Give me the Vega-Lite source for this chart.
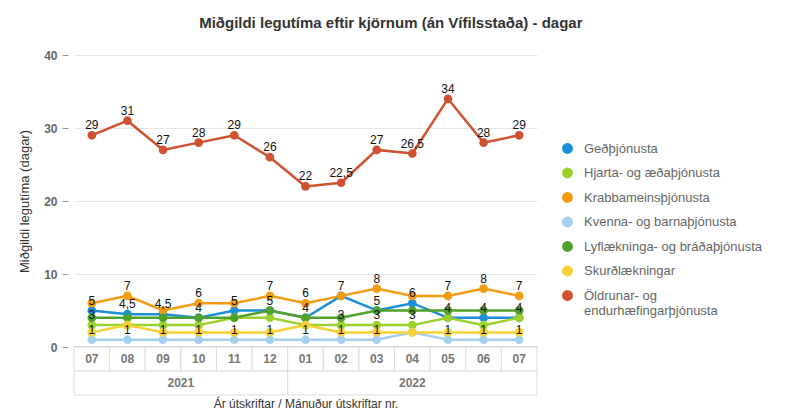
{
  "$schema": "https://vega.github.io/schema/vega-lite/v6.json",
  "padding": {"left": 18, "top": 16, "right": 5, "bottom": 2},
  "background": "white",
  "title": {"text": "Miðgildi legutíma eftir kjörnum (án Vífilsstaða) - dagar", "anchor": "middle", "frame": "bounds", "font": "Liberation Sans", "fontSize": 15, "fontWeight": "bold", "color": "#333333", "offset": 18},
  "bounds": "flush",
  "spacing": 0,
  "datasets": {
    "months": [
      {"ym": "2021-07", "year": "2021", "month": "07"},
      {"ym": "2021-08", "year": "2021", "month": "08"},
      {"ym": "2021-09", "year": "2021", "month": "09"},
      {"ym": "2021-10", "year": "2021", "month": "10"},
      {"ym": "2021-11", "year": "2021", "month": "11"},
      {"ym": "2021-12", "year": "2021", "month": "12"},
      {"ym": "2022-01", "year": "2022", "month": "01"},
      {"ym": "2022-02", "year": "2022", "month": "02"},
      {"ym": "2022-03", "year": "2022", "month": "03"},
      {"ym": "2022-04", "year": "2022", "month": "04"},
      {"ym": "2022-05", "year": "2022", "month": "05"},
      {"ym": "2022-06", "year": "2022", "month": "06"},
      {"ym": "2022-07", "year": "2022", "month": "07"}
    ],
    "values": [
      {"ym": "2021-07", "series": "Geðþjónusta", "value": 5, "label": "5"},
      {"ym": "2021-08", "series": "Geðþjónusta", "value": 4.5, "label": "4,5"},
      {"ym": "2021-09", "series": "Geðþjónusta", "value": 4.5, "label": "4,5"},
      {"ym": "2021-10", "series": "Geðþjónusta", "value": 4, "label": "4"},
      {"ym": "2021-11", "series": "Geðþjónusta", "value": 5, "label": "5"},
      {"ym": "2021-12", "series": "Geðþjónusta", "value": 5, "label": "5"},
      {"ym": "2022-01", "series": "Geðþjónusta", "value": 4, "label": "4"},
      {"ym": "2022-02", "series": "Geðþjónusta", "value": 7, "label": null},
      {"ym": "2022-03", "series": "Geðþjónusta", "value": 5, "label": "5"},
      {"ym": "2022-04", "series": "Geðþjónusta", "value": 6, "label": "6"},
      {"ym": "2022-05", "series": "Geðþjónusta", "value": 4, "label": "4"},
      {"ym": "2022-06", "series": "Geðþjónusta", "value": 4, "label": "4"},
      {"ym": "2022-07", "series": "Geðþjónusta", "value": 4, "label": "4"},

      {"ym": "2021-07", "series": "Hjarta- og æðaþjónusta", "value": 3, "label": "3"},
      {"ym": "2021-08", "series": "Hjarta- og æðaþjónusta", "value": 3, "label": null},
      {"ym": "2021-09", "series": "Hjarta- og æðaþjónusta", "value": 3, "label": null},
      {"ym": "2021-10", "series": "Hjarta- og æðaþjónusta", "value": 3, "label": null},
      {"ym": "2021-11", "series": "Hjarta- og æðaþjónusta", "value": 4, "label": null},
      {"ym": "2021-12", "series": "Hjarta- og æðaþjónusta", "value": 4, "label": null},
      {"ym": "2022-01", "series": "Hjarta- og æðaþjónusta", "value": 3, "label": null},
      {"ym": "2022-02", "series": "Hjarta- og æðaþjónusta", "value": 3, "label": "3"},
      {"ym": "2022-03", "series": "Hjarta- og æðaþjónusta", "value": 3, "label": "3"},
      {"ym": "2022-04", "series": "Hjarta- og æðaþjónusta", "value": 3, "label": "3"},
      {"ym": "2022-05", "series": "Hjarta- og æðaþjónusta", "value": 4, "label": null},
      {"ym": "2022-06", "series": "Hjarta- og æðaþjónusta", "value": 3, "label": null},
      {"ym": "2022-07", "series": "Hjarta- og æðaþjónusta", "value": 4, "label": null},

      {"ym": "2021-07", "series": "Krabbameinsþjónusta", "value": 6, "label": null},
      {"ym": "2021-08", "series": "Krabbameinsþjónusta", "value": 7, "label": "7"},
      {"ym": "2021-09", "series": "Krabbameinsþjónusta", "value": 5, "label": null},
      {"ym": "2021-10", "series": "Krabbameinsþjónusta", "value": 6, "label": "6"},
      {"ym": "2021-11", "series": "Krabbameinsþjónusta", "value": 6, "label": null},
      {"ym": "2021-12", "series": "Krabbameinsþjónusta", "value": 7, "label": "7"},
      {"ym": "2022-01", "series": "Krabbameinsþjónusta", "value": 6, "label": "6"},
      {"ym": "2022-02", "series": "Krabbameinsþjónusta", "value": 7, "label": "7"},
      {"ym": "2022-03", "series": "Krabbameinsþjónusta", "value": 8, "label": "8"},
      {"ym": "2022-04", "series": "Krabbameinsþjónusta", "value": 7, "label": null},
      {"ym": "2022-05", "series": "Krabbameinsþjónusta", "value": 7, "label": "7"},
      {"ym": "2022-06", "series": "Krabbameinsþjónusta", "value": 8, "label": "8"},
      {"ym": "2022-07", "series": "Krabbameinsþjónusta", "value": 7, "label": "7"},

      {"ym": "2021-07", "series": "Kvenna- og barnaþjónusta", "value": 1, "label": "1"},
      {"ym": "2021-08", "series": "Kvenna- og barnaþjónusta", "value": 1, "label": "1"},
      {"ym": "2021-09", "series": "Kvenna- og barnaþjónusta", "value": 1, "label": "1"},
      {"ym": "2021-10", "series": "Kvenna- og barnaþjónusta", "value": 1, "label": "1"},
      {"ym": "2021-11", "series": "Kvenna- og barnaþjónusta", "value": 1, "label": "1"},
      {"ym": "2021-12", "series": "Kvenna- og barnaþjónusta", "value": 1, "label": "1"},
      {"ym": "2022-01", "series": "Kvenna- og barnaþjónusta", "value": 1, "label": "1"},
      {"ym": "2022-02", "series": "Kvenna- og barnaþjónusta", "value": 1, "label": "1"},
      {"ym": "2022-03", "series": "Kvenna- og barnaþjónusta", "value": 1, "label": "1"},
      {"ym": "2022-04", "series": "Kvenna- og barnaþjónusta", "value": 2, "label": null},
      {"ym": "2022-05", "series": "Kvenna- og barnaþjónusta", "value": 1, "label": "1"},
      {"ym": "2022-06", "series": "Kvenna- og barnaþjónusta", "value": 1, "label": "1"},
      {"ym": "2022-07", "series": "Kvenna- og barnaþjónusta", "value": 1, "label": "1"},

      {"ym": "2021-07", "series": "Lyflækninga- og bráðaþjónusta", "value": 4, "label": null},
      {"ym": "2021-08", "series": "Lyflækninga- og bráðaþjónusta", "value": 4, "label": null},
      {"ym": "2021-09", "series": "Lyflækninga- og bráðaþjónusta", "value": 4, "label": null},
      {"ym": "2021-10", "series": "Lyflækninga- og bráðaþjónusta", "value": 4, "label": null},
      {"ym": "2021-11", "series": "Lyflækninga- og bráðaþjónusta", "value": 4, "label": null},
      {"ym": "2021-12", "series": "Lyflækninga- og bráðaþjónusta", "value": 5, "label": null},
      {"ym": "2022-01", "series": "Lyflækninga- og bráðaþjónusta", "value": 4, "label": null},
      {"ym": "2022-02", "series": "Lyflækninga- og bráðaþjónusta", "value": 4, "label": null},
      {"ym": "2022-03", "series": "Lyflækninga- og bráðaþjónusta", "value": 5, "label": null},
      {"ym": "2022-04", "series": "Lyflækninga- og bráðaþjónusta", "value": 5, "label": null},
      {"ym": "2022-05", "series": "Lyflækninga- og bráðaþjónusta", "value": 5, "label": null},
      {"ym": "2022-06", "series": "Lyflækninga- og bráðaþjónusta", "value": 5, "label": null},
      {"ym": "2022-07", "series": "Lyflækninga- og bráðaþjónusta", "value": 5, "label": null},

      {"ym": "2021-07", "series": "Skurðlækningar", "value": 2, "label": null},
      {"ym": "2021-08", "series": "Skurðlækningar", "value": 3, "label": null},
      {"ym": "2021-09", "series": "Skurðlækningar", "value": 2, "label": null},
      {"ym": "2021-10", "series": "Skurðlækningar", "value": 2, "label": null},
      {"ym": "2021-11", "series": "Skurðlækningar", "value": 2, "label": null},
      {"ym": "2021-12", "series": "Skurðlækningar", "value": 2, "label": null},
      {"ym": "2022-01", "series": "Skurðlækningar", "value": 3, "label": null},
      {"ym": "2022-02", "series": "Skurðlækningar", "value": 2, "label": null},
      {"ym": "2022-03", "series": "Skurðlækningar", "value": 2, "label": null},
      {"ym": "2022-04", "series": "Skurðlækningar", "value": 2, "label": null},
      {"ym": "2022-05", "series": "Skurðlækningar", "value": 2, "label": null},
      {"ym": "2022-06", "series": "Skurðlækningar", "value": 2, "label": null},
      {"ym": "2022-07", "series": "Skurðlækningar", "value": 2, "label": null},

      {"ym": "2021-07", "series": "Öldrunar- og endurhæfingarþjónusta", "value": 29, "label": "29"},
      {"ym": "2021-08", "series": "Öldrunar- og endurhæfingarþjónusta", "value": 31, "label": "31"},
      {"ym": "2021-09", "series": "Öldrunar- og endurhæfingarþjónusta", "value": 27, "label": "27"},
      {"ym": "2021-10", "series": "Öldrunar- og endurhæfingarþjónusta", "value": 28, "label": "28"},
      {"ym": "2021-11", "series": "Öldrunar- og endurhæfingarþjónusta", "value": 29, "label": "29"},
      {"ym": "2021-12", "series": "Öldrunar- og endurhæfingarþjónusta", "value": 26, "label": "26"},
      {"ym": "2022-01", "series": "Öldrunar- og endurhæfingarþjónusta", "value": 22, "label": "22"},
      {"ym": "2022-02", "series": "Öldrunar- og endurhæfingarþjónusta", "value": 22.5, "label": "22,5"},
      {"ym": "2022-03", "series": "Öldrunar- og endurhæfingarþjónusta", "value": 27, "label": "27"},
      {"ym": "2022-04", "series": "Öldrunar- og endurhæfingarþjónusta", "value": 26.5, "label": "26,5"},
      {"ym": "2022-05", "series": "Öldrunar- og endurhæfingarþjónusta", "value": 34, "label": "34"},
      {"ym": "2022-06", "series": "Öldrunar- og endurhæfingarþjónusta", "value": 28, "label": "28"},
      {"ym": "2022-07", "series": "Öldrunar- og endurhæfingarþjónusta", "value": 29, "label": "29"}
    ]
  },
  "vconcat": [
    {
      "data": {"name": "values"},
      "width": 463,
      "height": 292,
      "encoding": {
        "x": {"field": "ym", "type": "ordinal", "scale": {"type": "band", "paddingInner": 0, "paddingOuter": 0},
          "axis": {"labels": false, "ticks": false, "title": null, "domain": true, "domainColor": "#a0a0a0", "domainWidth": 2, "grid": false}},
        "y": {"field": "value", "type": "quantitative", "scale": {"domain": [0, 40]},
          "axis": {"title": "Miðgildi legutíma (dagar)", "values": [0, 10, 20, 30, 40], "domain": false, "offset": 6, "tickSize": 6, "tickColor": "#999999",
            "labelFont": "Liberation Sans", "labelFontWeight": "bold", "labelColor": "#666666", "labelFontSize": 12, "labelPadding": 5,
            "grid": true, "gridColor": "#e6e6e6",
            "titleFont": "Liberation Sans", "titleFontSize": 13, "titleFontWeight": "normal", "titleColor": "#333333", "titlePadding": 12}},
        "color": {"field": "series", "type": "nominal",
          "scale": {"domain": ["Geðþjónusta", "Hjarta- og æðaþjónusta", "Krabbameinsþjónusta", "Kvenna- og barnaþjónusta", "Lyflækninga- og bráðaþjónusta", "Skurðlækningar", "Öldrunar- og endurhæfingarþjónusta"],
            "range": ["#1b8fd8", "#9bd12a", "#f39c12", "#a2d0ee", "#4fa12a", "#f7d035", "#d0502f"]},
          "legend": {"title": null, "orient": "none", "legendX": 487, "legendY": 87, "padding": 0, "symbolType": "circle", "symbolSize": 120, "symbolStrokeWidth": 0,
            "labelFont": "Liberation Sans", "labelFontSize": 13, "labelColor": "#666666", "labelOffset": 10, "rowPadding": 10.5, "labelLimit": 300,
            "labelExpr": "datum.label == 'Öldrunar- og endurhæfingarþjónusta' ? ['Öldrunar- og', 'endurhæfingarþjónusta'] : datum.label"}}
      },
      "layer": [
        {"mark": {"type": "line", "strokeWidth": 2.5}},
        {"mark": {"type": "circle", "size": 75, "opacity": 1}},
        {"transform": [{"filter": "datum.label != null"}],
          "mark": {"type": "text", "dy": -10, "fontSize": 12, "font": "Liberation Sans"},
          "encoding": {"text": {"field": "label"}, "color": {"value": "#111111"}}}
      ]
    },
    {
      "data": {"name": "months"},
      "width": 463,
      "height": 24,
      "encoding": {
        "x": {"field": "ym", "type": "ordinal", "scale": {"type": "band", "paddingInner": 0, "paddingOuter": 0}, "axis": null}
      },
      "layer": [
        {"mark": {"type": "rect", "fill": "white", "stroke": "#dddddd", "strokeWidth": 1}},
        {"mark": {"type": "text", "font": "Liberation Sans", "fontWeight": "bold", "fontSize": 12, "color": "#777777"},
          "encoding": {"text": {"field": "month"}}}
      ]
    },
    {
      "data": {"name": "months"},
      "width": 463,
      "height": 24,
      "transform": [
        {"aggregate": [{"op": "count", "as": "n"}], "groupby": ["year"]},
        {"stack": "n", "groupby": [], "sort": [{"field": "year", "order": "ascending"}], "as": ["from", "to"]}
      ],
      "layer": [
        {"mark": {"type": "rect", "fill": "white", "stroke": "#dddddd", "strokeWidth": 1},
          "encoding": {
            "x": {"field": "from", "type": "quantitative", "scale": {"nice": false, "zero": true},
              "axis": {"title": "Ár útskriftar / Mánuður útskriftar nr.", "labels": false, "ticks": false, "domain": false, "grid": false,
                "titleFont": "Liberation Sans", "titleFontSize": 12, "titleFontWeight": "normal", "titleColor": "#333333", "titlePadding": 3}},
            "x2": {"field": "to"}
          }},
        {"transform": [
            {"fold": ["from", "to"]},
            {"aggregate": [{"op": "mean", "field": "value", "as": "mid"}], "groupby": ["year"]}
          ],
          "mark": {"type": "text", "font": "Liberation Sans", "fontWeight": "bold", "fontSize": 12, "color": "#777777"},
          "encoding": {
            "x": {"field": "mid", "type": "quantitative",
              "axis": {"title": "Ár útskriftar / Mánuður útskriftar nr.", "labels": false, "ticks": false, "domain": false, "grid": false,
                "titleFont": "Liberation Sans", "titleFontSize": 12, "titleFontWeight": "normal", "titleColor": "#333333", "titlePadding": 3}},
            "text": {"field": "year"}
          }}
      ]
    }
  ],
  "config": {
    "view": {"stroke": null},
    "font": "Liberation Sans"
  }
}
